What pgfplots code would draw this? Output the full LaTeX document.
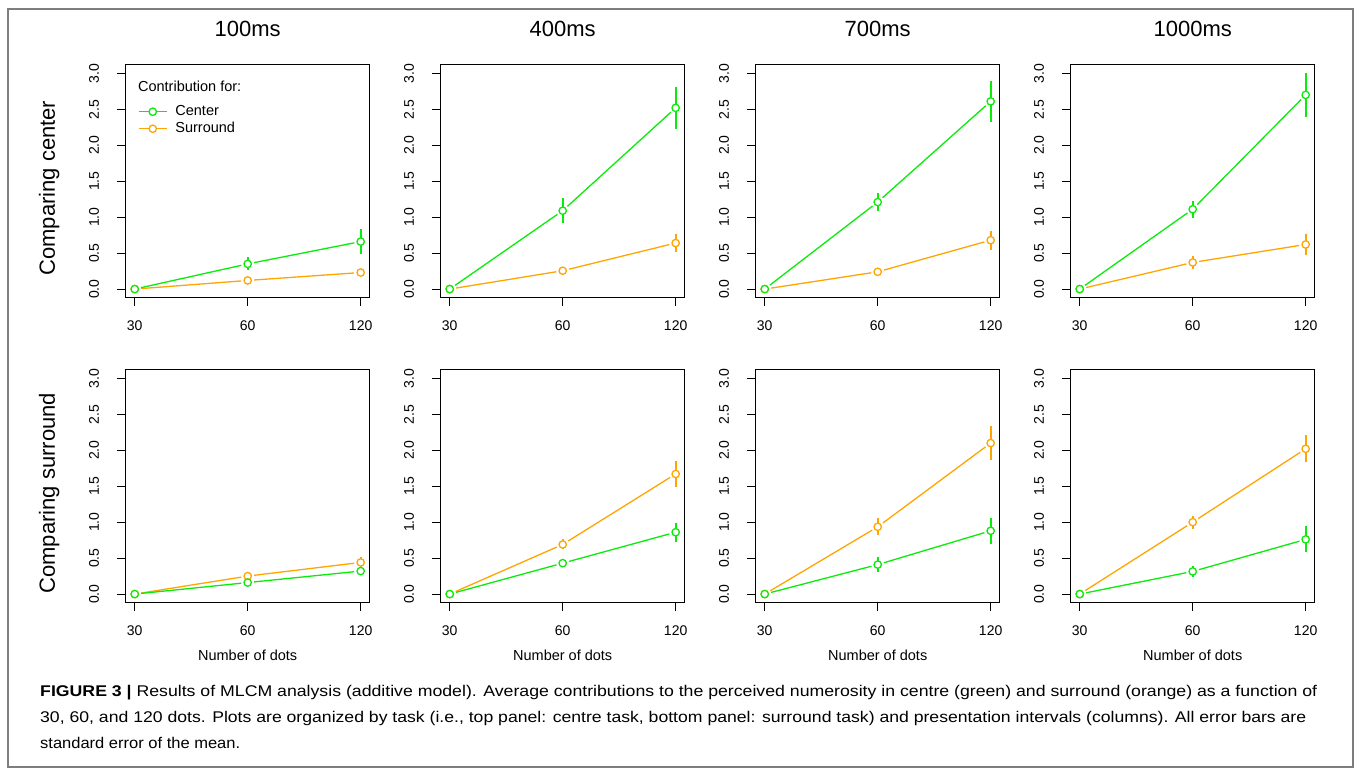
\documentclass[border=0pt]{standalone}
\usepackage{fontspec}
\setmainfont{Liberation Sans}
\usepackage{graphicx}
\usepackage{pgfplots}
\usepackage{pgfplotstable}
\pgfplotsset{compat=1.18}

\definecolor{cgreen}{RGB}{10,235,10}
\definecolor{corange}{RGB}{255,165,0}
\definecolor{frame}{RGB}{125,125,125}

% top row: comparing center
\pgfplotstableread{
x y e
1 0 0
2 0.35 0.09
3 0.66 0.17
}\tcA
\pgfplotstableread{
x y e
1 0 0
2 0.12 0.02
3 0.23 0.02
}\tsA
\pgfplotstableread{
x y e
1 0 0
2 1.09 0.17
3 2.52 0.29
}\tcB
\pgfplotstableread{
x y e
1 0 0
2 0.255 0.03
3 0.64 0.13
}\tsB
\pgfplotstableread{
x y e
1 0 0
2 1.21 0.13
3 2.61 0.29
}\tcC
\pgfplotstableread{
x y e
1 0 0
2 0.24 0.05
3 0.68 0.13
}\tsC
\pgfplotstableread{
x y e
1 0 0
2 1.11 0.12
3 2.70 0.31
}\tcD
\pgfplotstableread{
x y e
1 0 0
2 0.37 0.09
3 0.62 0.15
}\tsD
% bottom row: comparing surround
\pgfplotstableread{
x y e
1 0 0
2 0.16 0.02
3 0.32 0.03
}\bcA
\pgfplotstableread{
x y e
1 0 0
2 0.25 0.02
3 0.44 0.07
}\bsA
\pgfplotstableread{
x y e
1 0 0
2 0.43 0.02
3 0.86 0.13
}\bcB
\pgfplotstableread{
x y e
1 0 0
2 0.69 0.07
3 1.67 0.18
}\bsB
\pgfplotstableread{
x y e
1 0 0
2 0.41 0.10
3 0.88 0.18
}\bcC
\pgfplotstableread{
x y e
1 0 0
2 0.935 0.12
3 2.10 0.24
}\bsC
\pgfplotstableread{
x y e
1 0 0
2 0.315 0.08
3 0.76 0.18
}\bcD
\pgfplotstableread{
x y e
1 0 0
2 1.00 0.09
3 2.02 0.19
}\bsD

\pgfplotsset{
  seg/.style={line width=1.3pt, shorten <=6.5pt, shorten >=6.5pt, no marks, forget plot},
  pts/.style={forget plot, only marks, mark=*, mark size=3.7pt,
    mark options={fill=white, line width=1.3pt},
    error bars/.cd, y dir=both, y explicit, error mark=none,
    error bar style={line width=1.8pt}},
  panel/.style={
    scale only axis, width=244pt, height=233pt,
    xmin=0.92, xmax=3.08, ymin=-0.12, ymax=3.12,
    xtick={1,2,3}, xticklabels={30,60,120},
    ytick={0,0.5,...,3},
    xtick pos=bottom, ytick pos=left,
    tick align=outside, major tick length=8.5pt,
    axis line style={line width=1.1pt},
    every tick/.style={black, line width=1.1pt},
    /pgf/number format/assume math mode=true,
    yticklabel style={rotate=90, anchor=south, inner sep=0pt,
      /pgf/number format/.cd, fixed, fixed zerofill, precision=1},
    xticklabel style={inner sep=0pt},
    xticklabel shift=14pt, yticklabel shift=18pt,
    ticklabel style={font=\fontsize{14}{16}\selectfont},
    title style={at={(axis description cs:0.5,1.129)}, anchor=center,
      font=\fontsize{22}{26}\selectfont},
    xlabel style={at={(axis description cs:0.5,-0.227)}, anchor=center,
      font=\fontsize{14.5}{17}\selectfont},
    ylabel style={at={(axis description cs:-0.314,0.47)}, anchor=center,
      font=\fontsize{22}{26}\selectfont},
  },
}

\newcommand{\series}[2]{%
  \addplot[#1, seg, restrict x to domain=1:2] table {#2};
  \addplot[#1, seg, restrict x to domain=2:3] table {#2};
  \addplot[#1, pts] table[y error=e] {#2};
}

\begin{document}
\begin{tikzpicture}
\useasboundingbox (0pt,0pt) rectangle (1357pt,-775pt);
\draw[frame, line width=1.5pt] (8pt,-9pt) rectangle (1353pt,-767pt);

% ---- top row
\begin{axis}[panel, at={(125.7pt,-297.7pt)}, anchor=south west,
  title={100ms}, ylabel={Comparing center},
  legend image code/.code={\draw[mark repeat=2, mark phase=2, #1] plot coordinates {(0pt,0pt) (14pt,0pt) (28pt,0pt)};},
  legend cell align=left,
  legend style={draw=none, fill=none, inner sep=0pt, at={(axis description cs:0.05,0.828)}, anchor=north west,
    font=\fontsize{14.5}{17}\selectfont, row sep=3.5pt, column sep=8pt,
    nodes={inner sep=0pt, text height=10.5pt, text depth=3pt}}]
\series{corange}{\tsA}
\series{cgreen}{\tcA}
\addlegendimage{cgreen, line width=1.3pt, mark=*, mark size=3.7pt, mark options={fill=white}}
\addlegendentry{Center}
\addlegendimage{corange, line width=1.3pt, mark=*, mark size=3.7pt, mark options={fill=white}}
\addlegendentry{Surround}
\node[anchor=west, inner sep=0pt, font=\fontsize{14.5}{17}\selectfont] at (axis description cs:0.05,0.906) {Contribution for:};
\end{axis}

\begin{axis}[panel, at={(440.7pt,-297.7pt)}, anchor=south west, title={400ms}]
\series{corange}{\tsB}
\series{cgreen}{\tcB}
\end{axis}

\begin{axis}[panel, at={(755.7pt,-297.7pt)}, anchor=south west, title={700ms}]
\series{corange}{\tsC}
\series{cgreen}{\tcC}
\end{axis}

\begin{axis}[panel, at={(1070.7pt,-297.7pt)}, anchor=south west, title={1000ms}]
\series{corange}{\tsD}
\series{cgreen}{\tcD}
\end{axis}

% ---- bottom row
\begin{axis}[panel, at={(125.7pt,-602.7pt)}, anchor=south west,
  ylabel={Comparing surround}, xlabel={Number of dots}]
\series{corange}{\bsA}
\series{cgreen}{\bcA}
\end{axis}

\begin{axis}[panel, at={(440.7pt,-602.7pt)}, anchor=south west, xlabel={Number of dots}]
\series{corange}{\bsB}
\series{cgreen}{\bcB}
\end{axis}

\begin{axis}[panel, at={(755.7pt,-602.7pt)}, anchor=south west, xlabel={Number of dots}]
\series{corange}{\bsC}
\series{cgreen}{\bcC}
\end{axis}

\begin{axis}[panel, at={(1070.7pt,-602.7pt)}, anchor=south west, xlabel={Number of dots}]
\series{corange}{\bsD}
\series{cgreen}{\bcD}
\end{axis}

% ---- caption
\begin{scope}[every node/.style={anchor=west, inner sep=0pt, font=\fontsize{15.5}{18}\selectfont}]
\node at (40pt,-693pt) {\resizebox{1277pt}{\height}{\textbf{FIGURE 3 |} Results of MLCM analysis (additive model). Average contributions to the perceived numerosity in centre (green) and surround (orange) as a function of}};
\node at (40pt,-718pt) {\resizebox{1266pt}{\height}{30, 60, and 120 dots. Plots are organized by task (i.e., top panel: centre task, bottom panel: surround task) and presentation intervals (columns). All error bars are}};
\node at (40pt,-743pt) {\resizebox{200pt}{\height}{standard error of the mean.}};
\end{scope}
\end{tikzpicture}
\end{document}
